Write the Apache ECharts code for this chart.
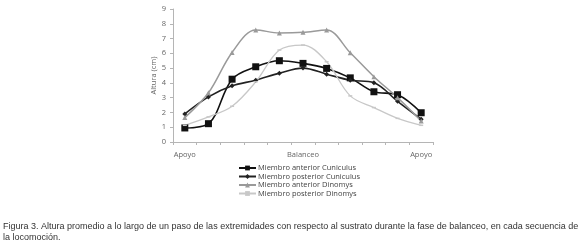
<!DOCTYPE html>
<html>
<head>
<meta charset="utf-8">
<script src="https://cdn.jsdelivr.net/npm/echarts@6/dist/echarts.min.js"></script>
<style>
html, body { margin: 0; padding: 0; background: #fff; }
#chart { width: 580px; height: 245px; }
</style>
</head>
<body>
<div id="chart"></div>
<script>
// categorias del paso (11 puntos)
var categories = ['Apoyo', '', '', '', '', 'Balanceo', '', '', '', '', 'Apoyo'];
var y_ticks = [0, 1, 2, 3, 4, 5, 6, 7, 8, 9];

var series_names = [
	'Miembro anterior Cuniculus',
	'Miembro posterior Cuniculus',
	'Miembro anterior Dinomys',
	'Miembro posterior Dinomys'
];
var ant_cuniculus = [0.95, 1.24, 4.25, 5.09, 5.5, 5.32, 4.98, 4.34, 3.4, 3.2, 1.98];
var post_cuniculus = [1.9, 3.05, 3.8, 4.18, 4.66, 5.0, 4.59, 4.18, 4.01, 2.75, 1.54];
var ant_dinomys = [1.65, 3.33, 6.06, 7.58, 7.38, 7.42, 7.58, 6.04, 4.42, 3.0, 1.42];
var post_dinomys = [1.13, 1.7, 2.42, 4.07, 6.22, 6.56, 5.43, 3.12, 2.33, 1.6, 1.13];

var caption_1 = 'Figura 3. Altura promedio a lo largo de un paso de las extremidades con respecto al sustrato durante la fase de balanceo, en cada secuencia de';
var caption_2 = 'la locomoción.';

var chart = echarts.init(document.getElementById('chart'));

function lineSerie(name, data, color, symbol, size, width){
	return {
		name: name,
		type: 'line',
		data: data,
		smooth: 0.35,
		symbol: symbol,
		symbolSize: size,
		showAllSymbol: true,
		lineStyle: { color: color, width: width },
		itemStyle: { color: color },
		emphasis: { disabled: true },
		z: 3
	};
}

// texto del pie de figura
var capStyle = {
	fontFamily: 'Liberation Sans, Arial, sans-serif',
	fontSize: 9,
	fill: '#333'
};

var option = {
	animation: false,
	backgroundColor: '#fff',
	textStyle: { fontFamily: 'Open Sans, Noto Sans, sans-serif' },
	graphic: [
		{ type: 'text', left: 3, top: 222, style: Object.assign({ text: caption_1 }, capStyle) },
		{ type: 'text', left: 3, top: 233, style: Object.assign({ text: caption_2 }, capStyle) }
	],
	grid: {
		left: 173,
		right: 147,
		top: 9,
		bottom: 103,
		containLabel: false
	},
	xAxis: {
		type: 'category',
		data: categories,
		boundaryGap: true,
		axisLine: { lineStyle: { color: '#b5b5b5', width: 1 } },
		axisTick: { show: true, length: 3, lineStyle: { color: '#b5b5b5' } },
		axisLabel: { interval: 0, fontSize: 7.5, color: '#666', margin: 9 },
		splitLine: { show: false }
	},
	yAxis: {
		type: 'value',
		min: y_ticks[0],
		max: y_ticks[y_ticks.length - 1],
		interval: 1,
		name: 'Altura (cm)',
		nameLocation: 'middle',
		nameGap: 15,
		nameTextStyle: { fontSize: 7.5, color: '#666' },
		axisLine: { show: true, lineStyle: { color: '#b5b5b5' } },
		axisTick: { show: true, length: 3, lineStyle: { color: '#b5b5b5' } },
		axisLabel: { fontSize: 7.5, color: '#666', margin: 7 },
		splitLine: { show: false }
	},
	legend: {
		orient: 'vertical',
		left: 238,
		top: 164,
		itemWidth: 17,
		itemHeight: 6,
		itemGap: 0.5,
		padding: 0,
		textStyle: { fontSize: 7.5, color: '#444', lineHeight: 8, padding: [0, 0, 0, -3] },
		data: series_names
	},
	series: [
		lineSerie(series_names[0], ant_cuniculus, '#111', 'rect', 7, 1.6),
		lineSerie(series_names[1], post_cuniculus, '#222', 'diamond', 5, 1.6),
		lineSerie(series_names[2], ant_dinomys, '#9a9a9a', 'triangle', 5, 1.5),
		lineSerie(series_names[3], post_dinomys, '#c8c8c8', 'rect', [4, 1.5], 1.3)
	]
};

chart.setOption(option);
</script>
</body>
</html>
